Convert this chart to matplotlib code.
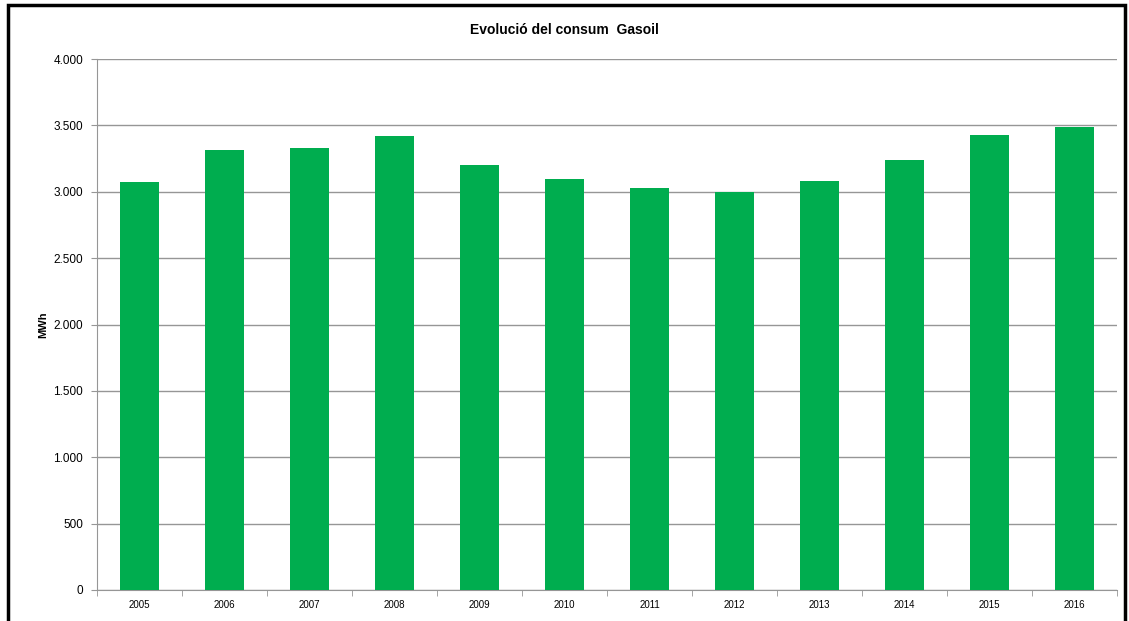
import matplotlib
matplotlib.use("Agg")
import matplotlib.pyplot as plt
from matplotlib.ticker import FuncFormatter, FixedLocator
from matplotlib.patches import Rectangle

years = ["2005", "2006", "2007", "2008", "2009", "2010",
         "2011", "2012", "2013", "2014", "2015", "2016"]
consum = [3076, 3318, 3328, 3417, 3199, 3096,
          3025, 2995, 3083, 3240, 3424, 3487]
y_ticks = [0, 500, 1000, 1500, 2000, 2500, 3000, 3500, 4000]

plt.rcParams['font.family'] = ['Liberation Sans', 'DejaVu Sans']

W, H = 1129, 621
fig = plt.figure(figsize=(W / 100, H / 100), dpi=100)

# black frame round the chart area (bottom cut off in the reference)
fig.patches.append(Rectangle((8 / W, -0.01), (1125 - 8) / W, (H - 5) / H + 0.01,
                             transform=fig.transFigure, fill=False,
                             edgecolor="black", linewidth=2.5))

ax = fig.add_axes([97 / W, (H - 590) / H, (1117 - 97) / W, (590 - 59) / H])
x = list(range(len(years)))
ax.bar(x, consum, width=0.47, color="#00AD4F", zorder=3)

ax.set_xlim(-0.5, len(years) - 0.5)
ax.set_ylim(0, 4000)
ax.set_yticks(y_ticks)
ax.yaxis.set_major_formatter(FuncFormatter(lambda v, p: f"{int(v):,}".replace(",", ".")))
ax.grid(axis="y", color="#969696", linewidth=1, zorder=0)

ax.set_xticks(x)
ax.set_xticklabels(years, fontsize=7)
ax.xaxis.set_minor_locator(FixedLocator([i - 0.5 for i in range(len(years) + 1)]))
ax.tick_params(axis="x", which="major", length=0, pad=7)
ax.tick_params(axis="x", which="minor", length=4, color="#969696")
ax.tick_params(axis="y", length=4, color="#969696", labelsize=8.5, pad=6)

for side in ["top", "right"]:
    ax.spines[side].set_visible(False)
for side in ["left", "bottom"]:
    ax.spines[side].set_color("#969696")

ax.set_ylabel("MWh", fontsize=8, fontweight="bold", labelpad=4)
fig.text(0.5, (H - 30) / H, "Evolució del consum  Gasoil", ha="center", va="center",
         fontsize=10, fontweight="bold")

fig.savefig("out.png", dpi=100)
